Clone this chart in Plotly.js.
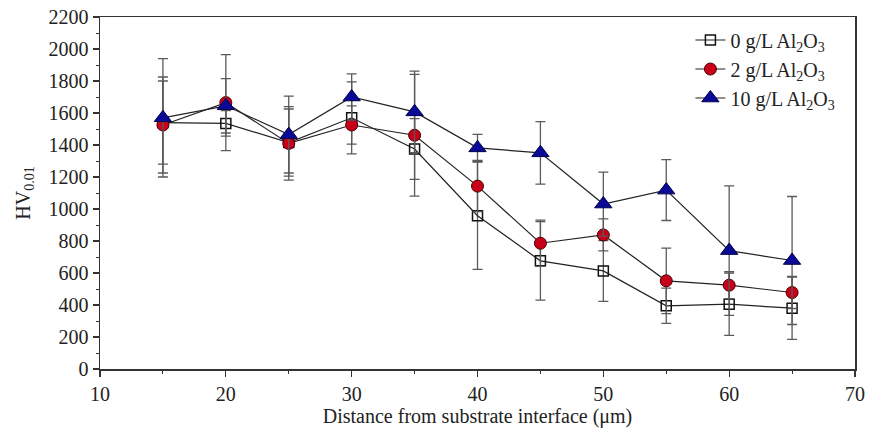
<!DOCTYPE html>
<html>
<head>
<meta charset="utf-8">
<script src="https://cdn.plot.ly/plotly-3.0.1.min.js"></script>
<style>html,body{margin:0;padding:0;background:#fff;}#chart{width:870px;height:434px;}</style>
</head>
<body>
<div id="chart"></div>
<script>
const distance = [15, 20, 25, 30, 35, 40, 45, 50, 55, 60, 65];

const hv0 = [1540, 1535, 1415, 1570, 1375, 958, 676, 613, 395, 405, 380];
const err0 = [260, 80, 210, 225, 190, 335, 245, 190, 110, 195, 195];

const hv2 = [1525, 1665, 1410, 1525, 1461, 1143, 786, 838, 551, 524, 478];
const err2 = [300, 300, 230, 120, 380, 160, 145, 100, 205, 85, 100];

const hv10 = [1570, 1645, 1465, 1700, 1607, 1382, 1351, 1031, 1118, 740, 678];
const err10 = [370, 170, 240, 145, 255, 85, 195, 200, 190, 405, 400];

const names = ['0 g/L Al<sub>2</sub>O<sub>3</sub>', '2 g/L Al<sub>2</sub>O<sub>3</sub>', '10 g/L Al<sub>2</sub>O<sub>3</sub>'];

const FONT = 'Liberation Serif, Times New Roman, serif';
const FS = 20;
const errStyle = (arr) => ({type: 'data', array: arr, visible: true, color: '#5a5a5a', thickness: 1.3, width: 5});

const traces = [
  {x: distance, y: hv0, error_y: errStyle(err0), name: names[0], mode: 'lines+markers', type: 'scatter',
   line: {color: '#222', width: 1.2},
   marker: {symbol: 'square-open', size: 10, color: '#111', line: {width: 1.5, color: '#111'}}},
  {x: distance, y: hv2, error_y: errStyle(err2), name: names[1], mode: 'lines+markers', type: 'scatter',
   line: {color: '#222', width: 1.2},
   marker: {symbol: 'circle', size: 12, color: '#c8001a', line: {width: 1, color: '#4a0000'}}},
  {x: distance, y: hv10, error_y: errStyle(err10), name: names[2], mode: 'lines+markers', type: 'scatter',
   line: {color: '#222', width: 1.2},
   marker: {symbol: 'triangle-up', size: 15, color: '#0a0a96', line: {width: 1, color: '#00004a'}}}
];

const axisCommon = {
  showline: true, mirror: true, linecolor: '#333', linewidth: 1.5,
  ticks: 'outside', ticklen: 6, tickwidth: 1.3, tickcolor: '#333',
  showgrid: false, zeroline: false,
  tickfont: {family: FONT, size: FS, color: '#222'},
  minor: {ticks: 'outside', ticklen: 3, tickwidth: 1, tickcolor: '#333', showgrid: false}
};

const layout = {
  width: 870, height: 434,
  margin: {l: 100, r: 15, t: 17, b: 65},
  paper_bgcolor: '#fff', plot_bgcolor: '#fff',
  font: {family: FONT, color: '#222'},
  showlegend: true,
  legend: {x: 0.782, y: 0.99, xanchor: 'left', yanchor: 'top', bgcolor: 'rgba(0,0,0,0)',
           font: {family: FONT, size: FS, color: '#222'}, tracegroupgap: 0},
  xaxis: Object.assign({}, axisCommon, {
    range: [10, 70], tickmode: 'linear', tick0: 10, dtick: 10,
    minor: Object.assign({}, axisCommon.minor, {dtick: 5}),
    title: {text: 'Distance from substrate interface (μm)', font: {family: FONT, size: FS, color: '#222'}, standoff: 4}
  }),
  yaxis: Object.assign({}, axisCommon, {
    range: [0, 2200], tickmode: 'linear', tick0: 0, dtick: 200,
    minor: Object.assign({}, axisCommon.minor, {dtick: 100}),
    title: {text: 'HV<sub>0.01</sub>', font: {family: FONT, size: FS, color: '#222'}, standoff: 12}
  })
};

Plotly.newPlot('chart', traces, layout, {displayModeBar: false, staticPlot: true});
</script>
</body>
</html>
